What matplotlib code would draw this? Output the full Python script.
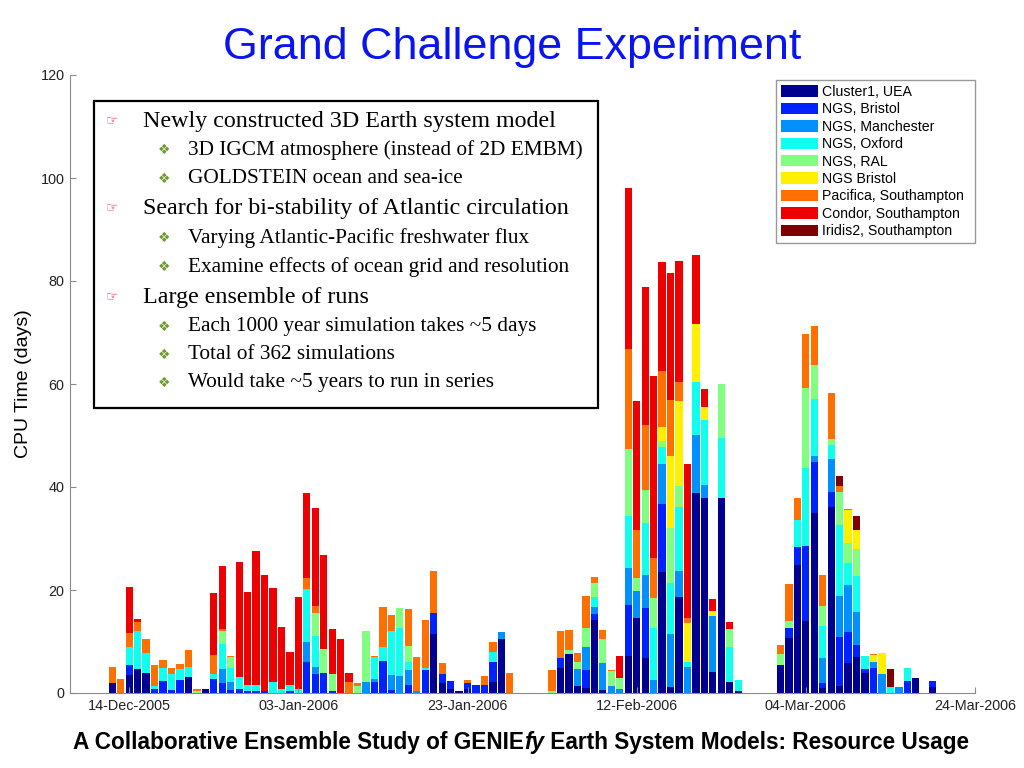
import matplotlib
matplotlib.use("Agg")
import matplotlib.pyplot as plt
import matplotlib.dates as mdates
from matplotlib.patches import Rectangle
import numpy as np
import datetime as dt

# day offsets from 14-Dec-2005 of every day that has CPU usage
day_offsets = ([-2, -1] + list(range(0, 46)) + list(range(50, 73))
               + list(range(77, 94)) + [95])

# CPU time per resource (days), one value per entry in day_offsets
# blocks: -2..9 | 10..20 | 21..33 | 34..45 | 50..61 | 62..72 | 77..86 | 87..93,95
uea = ([1.9, 0, 3.4, 4.6, 3.8, 0, 0, 0, 0, 3.2, 0, 0.7]
       + [0] * 11
       + [0] * 13
       + [0, 0, 11.5, 2.0, 0.8, 0.4, 0.7, 0, 0, 2.2, 10.5, 0]
       + [0, 4.9, 7.6, 1.4, 1.0, 14.2, 0.5, 0, 0, 7.2, 14.6, 6.7]
       + [0, 23.5, 1.1, 18.7, 0, 38.9, 37.8, 4.1, 37.8, 2.2, 0.45]
       + [5.4, 10.6, 24.9, 14.0, 35.0, 0.9, 36.2, 1.4, 5.8, 6.9]
       + [3.8, 0, 0, 0, 0, 0, 3.0, 1.1])
ngs_bristol = ([0, 0, 2.0, 0, 0, 0.8, 2.3, 0.6, 2.5, 0, 0, 0]
               + [2.7, 1.9, 0.5, 0.7, 0.3, 0.3, 0.3, 0, 0, 0.3, 0]
               + [6.1, 3.7, 3.9, 0.45, 0, 0, 0, 0, 2.2, 6.3, 0.6, 0, 1.55]
               + [0, 4.5, 4.0, 1.6, 1.6, 0, 1.2, 1.5, 1.55, 3.9, 0, 0]
               + [0, 1.8, 0, 0, 3.4, 1.2, 0, 0, 0, 9.9, 0, 9.8]
               + [0, 13.2, 0, 0, 0, 0, 0, 0, 0, 0, 0]
               + [0, 2.1, 3.5, 14.5, 9.8, 1.0, 2.8, 9.5, 6.1, 2.4]
               + [0.8, 4.8, 0, 0, 0, 2.3, 0, 1.3])
ngs_manchester = ([0] * 12
                  + [0, 2.7, 1.7, 0, 0, 0, 0, 0, 0, 0, 0]
                  + [3.9, 1.3, 0, 0, 0, 0, 0, 2.2, 0.5, 0, 2.9, 3.3, 2.95]
                  + [0.4, 0, 0, 0, 0, 0, 0, 0, 0, 0, 1.4, 0]
                  + [0, 0, 0, 3.2, 4.6, 1.3, 5.3, 1.3, 0.8, 7.1, 5.3, 6.5]
                  + [2.6, 7.7, 10.4, 4.9, 5.1, 11.2, 2.5, 10.9, 0, 0, 0]
                  + [0, 0, 0, 0, 1.3, 4.8, 6.4, 7.9, 9.1, 6.5]
                  + [0, 1.3, 3.7, 0, 1.2, 0, 0, 0])
ngs_oxford = ([0, 0, 3.5, 7.4, 3.9, 0.6, 2.5, 3.1, 2.1, 1.8, 0, 0]
              + [1.0, 4.9, 2.7, 2.5, 1.2, 1.2, 0, 2.2, 0.8, 1.2, 0.8]
              + [10.1, 6.1, 0, 0, 0, 0, 0, 0, 4.3, 2.7, 8.6, 9.3, 1.6]
              + [0, 0.4, 0, 0, 0, 0, 0, 0, 0, 1.9, 0, 0]
              + [0, 0, 0, 0, 0, 1.9, 0, 0, 0, 10.2, 0, 10.0]
              + [10.1, 3.3, 9.9, 12.6, 1.0, 10.2, 12.7, 0, 11.7, 6.8, 2.05]
              + [0, 0, 5.1, 15.1, 10.9, 6.3, 2.8, 13.8, 4.2, 6.9]
              + [2.6, 0, 0, 1.1, 0, 2.6, 0, 0])
ngs_ral = ([0, 0, 0, 0, 0, 0, 0, 0, 0, 0, 0.3, 0]
           + [0, 2.6, 2.1, 0, 0, 0, 0, 0, 0, 0, 0]
           + [0, 4.5, 4.6, 3.25, 0, 0, 1.4, 9.8, 0, 0, 0, 4.0, 3.0]
           + [0] * 12
           + [0.4, 0, 0.7, 1.4, 3.7, 2.8, 4.7, 2.9, 2.1, 12.9, 2.5, 6.5]
           + [5.7, 1.3, 10.6, 3.9, 0, 0, 0, 0, 10.5, 3.4, 0]
           + [2.2, 1.2, 0, 15.7, 6.7, 3.9, 1.2, 6.5, 4.0, 5.2]
           + [0] * 8)
ngs_bristol2 = ([0] * 12 + [0] * 11 + [0] * 13 + [0] * 12 + [0] * 12
                + [0, 2.6, 14.0, 16.6, 7.4, 11.4, 2.5, 0.9, 0, 0, 0]
                + [0, 0, 0, 0, 0, 0, 0, 0, 6.3, 3.8]
                + [0, 1.3, 4.1, 0, 0, 0, 0, 0])
pacifica = ([3.1, 2.8, 2.7, 1.7, 2.8, 4.0, 1.7, 1.2, 1.0, 3.3, 0.5, 0]
            + [3.7, 0.3, 0.2, 0, 0, 0, 0, 0, 0, 0, 0]
            + [2.2, 1.2, 0, 0, 0, 2.1, 0.6, 0, 0.2, 7.7, 3.0, 0, 7.2]
            + [6.5, 9.3, 8.2, 2.3, 0, 0, 0.6, 0, 1.75, 1.9, 0, 3.8]
            + [4.0, 5.4, 4.0, 1.7, 6.1, 1.1, 1.7, 0.2, 0, 19.4, 9.3, 12.5]
            + [7.9, 11.0, 10.9, 3.7, 1.0, 0, 0, 0, 0, 0, 0]
            + [1.7, 7.2, 4.4, 10.5, 7.6, 6.0, 8.8, 1.1, 0.2, 0]
            + [0, 0.2, 0, 0, 0, 0, 0, 0])
condor = ([0, 0, 8.9, 0.6, 0, 0, 0, 0, 0, 0, 0, 0]
          + [12.1, 12.3, 0, 22.3, 18.2, 26.1, 22.6, 18.1, 12.1, 6.5, 17.8]
          + [16.6, 19.1, 18.2, 8.7, 10.5, 1.7, 0, 0, 0, 0, 0, 0, 0]
          + [0] * 12
          + [0, 0, 0, 0, 0, 0, 0, 0, 4.2, 31.3, 25.0, 26.8]
          + [35.3, 21.1, 24.6, 23.5, 29.9, 13.3, 3.6, 2.4, 0, 1.3, 0]
          + [0] * 10
          + [0] * 8)
iridis2 = ([0] * 12 + [0] * 11 + [0] * 13 + [0] * 12 + [0] * 12 + [0] * 11
           + [0, 0, 0, 0, 0, 0, 0, 2.0, 0, 2.7]
           + [0, 0, 0, 3.5, 0, 0, 0, 0])

series = [uea, ngs_bristol, ngs_manchester, ngs_oxford, ngs_ral,
          ngs_bristol2, pacifica, condor, iridis2]
labels = ["Cluster1, UEA", "NGS, Bristol", "NGS, Manchester", "NGS, Oxford",
          "NGS, RAL", "NGS Bristol", "Pacifica, Southampton",
          "Condor, Southampton", "Iridis2, Southampton"]
colors = ["#000090", "#0022FF", "#0090FF", "#10FFEF", "#80FF80",
          "#FFEF00", "#FF7000", "#EE0000", "#800000"]

bullets = [
    (0, "Newly constructed 3D Earth system model"),
    (1, "3D IGCM atmosphere (instead of 2D EMBM)"),
    (1, "GOLDSTEIN ocean and sea-ice"),
    (0, "Search for bi-stability of Atlantic circulation"),
    (1, "Varying Atlantic-Pacific freshwater flux"),
    (1, "Examine effects of ocean grid and resolution"),
    (0, "Large ensemble of runs"),
    (1, "Each 1000 year simulation takes ~5 days"),
    (1, "Total of 362 simulations"),
    (1, "Would take ~5 years to run in series"),
]

W, H = 1024, 768
start = dt.date(2005, 12, 14)
dates = [mdates.date2num(start + dt.timedelta(days=d)) for d in day_offsets]


def fx(x):
    return x / W


def fy(y):
    return 1 - y / H


fig = plt.figure(figsize=(W / 100, H / 100), dpi=100)
ax = fig.add_axes([fx(70), 75 / H, 905 / W, 618 / H])

bottom = np.zeros(len(dates))
for vals, lab, col in zip(series, labels, colors):
    vals = np.array(vals, dtype=float)
    ax.bar(dates, vals, width=0.86, bottom=bottom, color=col, label=lab,
           linewidth=0)
    bottom += vals

ax.set_xlim(mdates.date2num(dt.date(2005, 12, 7)),
            mdates.date2num(dt.date(2006, 3, 24)))
ax.set_ylim(0, 120)
ax.set_yticks(range(0, 121, 20))
ax.set_xticks([mdates.date2num(start + dt.timedelta(days=20 * k)) for k in range(6)])
ax.xaxis.set_major_formatter(mdates.DateFormatter("%d-%b-%Y"))
for s in ["top", "right"]:
    ax.spines[s].set_visible(False)
for s in ["left", "bottom"]:
    ax.spines[s].set_color("#8a8a8a")
ax.tick_params(direction="in", length=4, color="#8a8a8a", labelsize=10.4,
               labelcolor="#222222", pad=4)
for t in ax.get_xticklabels() + ax.get_yticklabels():
    t.set_family("Liberation Sans")
ax.set_ylabel("CPU Time (days)", fontsize=14, family="Liberation Sans",
              labelpad=6)

# legend box stretched to the reference frame width
leg = ax.legend(loc="upper left",
                bbox_to_anchor=(fx(776), fy(242), fx(975) - fx(776), fy(80) - fy(242)),
                bbox_transform=fig.transFigure, borderaxespad=0, mode="expand",
                prop={"family": "Liberation Sans", "size": 10.2},
                handlelength=2.6, handleheight=0.87, handletextpad=0.3,
                labelspacing=0.24, borderpad=0.35, fancybox=False,
                framealpha=1, edgecolor="#999999")
leg.get_frame().set_linewidth(1.0)

# title
fig.text(0.5, fy(47), "Grand Challenge Experiment", ha="center", va="center",
         fontsize=32.3, color="#0A14F0", family="Liberation Sans")

# text box
fig.add_artist(Rectangle((fx(94), fy(408)), fx(598) - fx(94), fy(101) - fy(408),
                         transform=fig.transFigure, facecolor="white",
                         edgecolor="black", linewidth=1.6))
line_y = [121, 150, 178.5, 208.5, 238, 267, 297, 327, 354.5, 382.5]
for (level, txt), y in zip(bullets, line_y):
    if level == 0:
        fig.text(fx(112.5), fy(y - 1), "\u261E", ha="center", va="center",
                 fontsize=10, color="#E8506E", family="DejaVu Sans")
        fig.text(fx(143), fy(y), txt, ha="left", va="center", fontsize=17.3,
                 family="Liberation Serif", color="black")
    else:
        fig.text(fx(164), fy(y), "\u2756", ha="center", va="center",
                 fontsize=10, color="#6A9A2A", family="DejaVu Sans")
        fig.text(fx(188), fy(y), txt, ha="left", va="center", fontsize=15.3,
                 family="Liberation Serif", color="black")

# caption with bold italic "fy"
renderer = fig.canvas.get_renderer()
parts = [("A Collaborative Ensemble Study of GENIE", "normal"), ("fy", "italic"),
         (" Earth System Models: Resource Usage", "normal")]
texts = [fig.text(0, fy(742), s, fontsize=16.3, fontweight="bold", style=st,
                  family="Liberation Sans", va="center", ha="left")
         for s, st in parts]
widths = [t.get_window_extent(renderer).width for t in texts]
x = 521 - sum(widths) / 2
for t, w in zip(texts, widths):
    t.set_x(fx(x))
    x += w

fig.savefig("out.png", dpi=100)
